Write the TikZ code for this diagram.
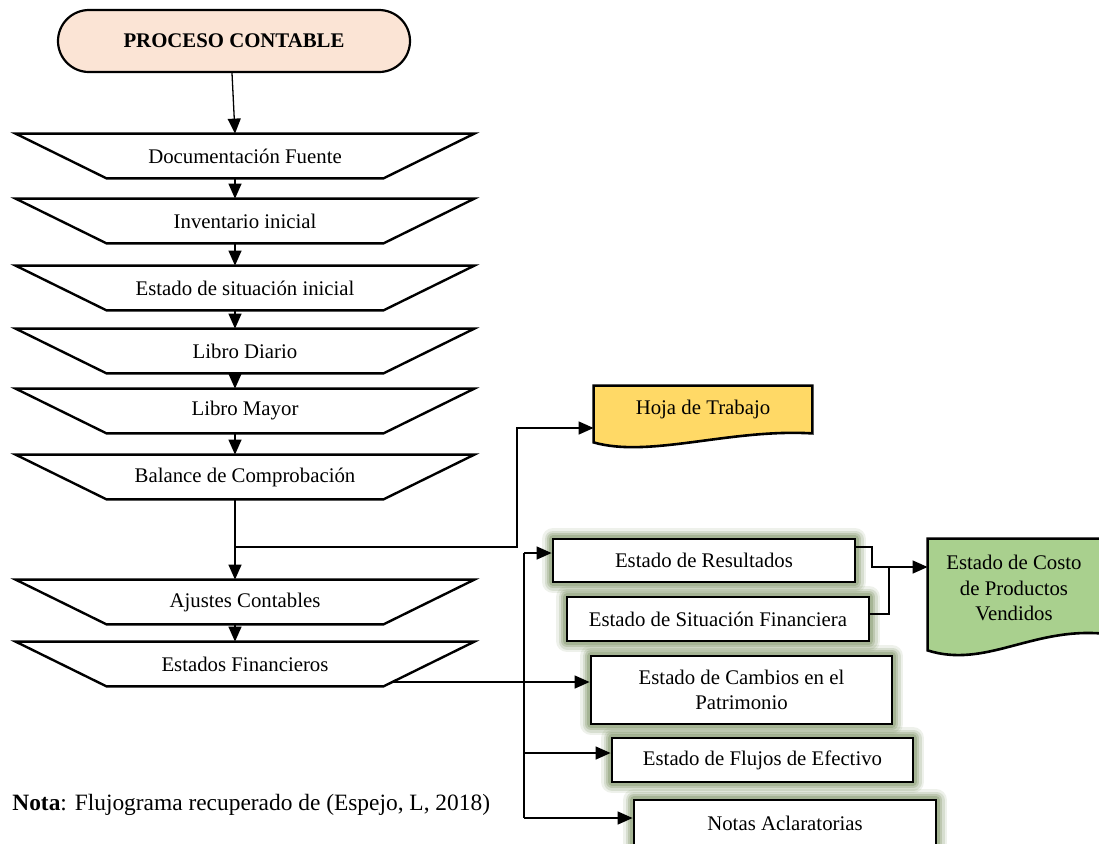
\documentclass[tikz,border=0pt]{standalone}
\usepackage{fontspec}
\setmainfont{Liberation Serif}
\usetikzlibrary{arrows.meta,calc,backgrounds}
\definecolor{peach}{RGB}{251,228,213}
\definecolor{gold}{RGB}{255,217,102}
\definecolor{leaf}{RGB}{169,208,142}
\definecolor{glowc}{RGB}{135,155,112}
\tikzset{
 every node/.style={font=\fontsize{10.4}{12.75}\selectfont},
 arr/.style={-{Triangle[length=7.5pt,width=6.5pt]}, line width=0.65pt},
 conn/.style={line width=0.65pt},
 trapbox/.style={minimum width=138pt, minimum height=22pt, inner sep=0pt},
 trapline/.style={line width=1.2pt, line join=miter},
 gbox/.style={draw, line width=1.4pt, fill=white, inner sep=0pt, align=center,
   preaction={draw=glowc, line width=11pt, opacity=0.14, line join=round},
   preaction={draw=glowc, line width=8.5pt, opacity=0.22, line join=round},
   preaction={draw=glowc, line width=6pt, opacity=0.32, line join=round},
   preaction={draw=glowc, line width=3.6pt, opacity=0.45, line join=round}},
 docline/.style={draw, line width=1.3pt},
}
\newcommand\trapz[3]{%
 \node[trapbox] (#1) at (245,#2) {#3};
 \draw[trapline] ([xshift=-45.5pt]#1.north west) -- ([xshift=45.5pt]#1.north east) -- (#1.south east) -- (#1.south west) -- cycle;}
\begin{document}
\begin{tikzpicture}[x=0.5pt,y=-0.5pt]
\useasboundingbox (0,0) rectangle (1099,843);
\clip (0,0) rectangle (1099,843);

% start
\node[draw, fill=peach, line width=1.1pt, rounded corners=15.5pt, minimum width=176pt, minimum height=31pt,
  font=\fontsize{10.4}{12.75}\selectfont\bfseries] (start) at (234,41) {PROCESO CONTABLE};

% chain
\trapz{d1}{156}{Documentación Fuente}
\trapz{d2}{221}{Inventario inicial}
\trapz{d3}{288}{Estado de situación inicial}
\trapz{d4}{351}{Libro Diario}
\trapz{d5}{411}{Libro Mayor}
\trapz{d6}{477}{Balance de Comprobación}
\trapz{d7}{602}{Ajustes Contables}
\trapz{d8}{664}{Estados Financieros}

\draw[arr] ([xshift=-1pt]start.south) -- ([xshift=-5pt]d1.north);
\draw[arr] ([xshift=-5pt]d1.south) -- ([xshift=-5pt]d2.north);
\draw[arr] ([xshift=-5pt]d2.south) -- ([xshift=-5pt]d3.north);
\draw[arr] ([xshift=-5pt]d3.south) -- ([xshift=-5pt]d4.north);
\draw[arr] ([xshift=-5pt]d4.south) -- ([xshift=-5pt]d5.north);
\draw[arr] ([xshift=-5pt]d5.south) -- ([xshift=-5pt]d6.north);
\draw[arr] ([xshift=-5pt]d6.south) -- ([xshift=-5pt]d7.north);
\draw[arr] ([xshift=-5pt]d7.south) -- ([xshift=-5pt]d8.north);

% Hoja de Trabajo
\node[inner sep=0pt, minimum width=109pt, minimum height=23.5pt] (hoja) at (703,409.5) {Hoja de Trabajo};
\begin{pgfonlayer}{background}
\draw[docline, fill=gold] (hoja.north west) -- (hoja.north east) -- (hoja.south east)
  .. controls ($(hoja.south east)+(-82,-5)$) and ($(hoja.south west)+(56,25)$) .. ($(hoja.south west)+(0,9)$) -- cycle;
\end{pgfonlayer}

\coordinate (b1) at (235,547);
\coordinate (b2) at (517,428);
\draw[arr] (b1) -| (b2) -- (hoja.west |- b2);

% financial statements
\node[gbox, minimum width=151pt, minimum height=21.5pt] (er) at (704,560.5) {Estado de Resultados};
\node[gbox, minimum width=151pt, minimum height=22pt] (esf) at (718,619) {Estado de Situación Financiera};
\node[gbox, minimum width=150.5pt, minimum height=34pt] (camb) at (741.5,690) {Estado de Cambios en el\\Patrimonio};
\node[gbox, minimum width=150.5pt, minimum height=22pt] (flu) at (762.5,760) {Estado de Flujos de Efectivo};
\node[gbox, minimum width=151pt, minimum height=23.5pt] (notas) at (785,823.5) {Notas Aclaratorias};

% Costo
\node[inner sep=0pt, minimum width=86pt, minimum height=49pt, align=center] (costo) at (1014,588) {Estado de Costo\\de Productos\\Vendidos};
\begin{pgfonlayer}{background}
\draw[docline, fill=leaf] (costo.north west) -- (costo.north east) -- ($(costo.south east)+(0,-4)$)
  .. controls ($(costo.south east)+(-70,-9)$) and ($(costo.south west)+(57,31)$) .. ($(costo.south west)+(0,13)$) -- cycle;
\end{pgfonlayer}

% bus
\coordinate (bt) at (524,553);
\coordinate (bb) at (524,818);
\coordinate (j) at (524,682);
\coordinate (jf) at (524,753);
\draw[conn] (bt) -- (bb);
\draw[arr] (bt) -- (er.west |- bt);
\draw[arr] ([xshift=4pt]d8.south east |- j) -- (camb.west |- j);
\draw[arr] (jf) -- (flu.west |- jf);
\draw[arr] (bb) -- (notas.west |- bb);

% to costo
\coordinate (c1) at (872,547);
\coordinate (c2) at (889,614);
\coordinate (m1) at (872,567);
\coordinate (m2) at (889,567);
\draw[conn] (er.east |- c1) -| (m1) -- (m2);
\draw[conn] (esf.east |- c2) -| (m2);
\draw[arr] (m1) -- (costo.west |- m1);

% note
\node[anchor=west, inner sep=0pt, font=\fontsize{11.7}{14}\selectfont] (nota) at (12,805)
  {\textbf{Nota}: Flujograma recuperado de (Espejo, L, 2018)};
\end{tikzpicture}
\end{document}
